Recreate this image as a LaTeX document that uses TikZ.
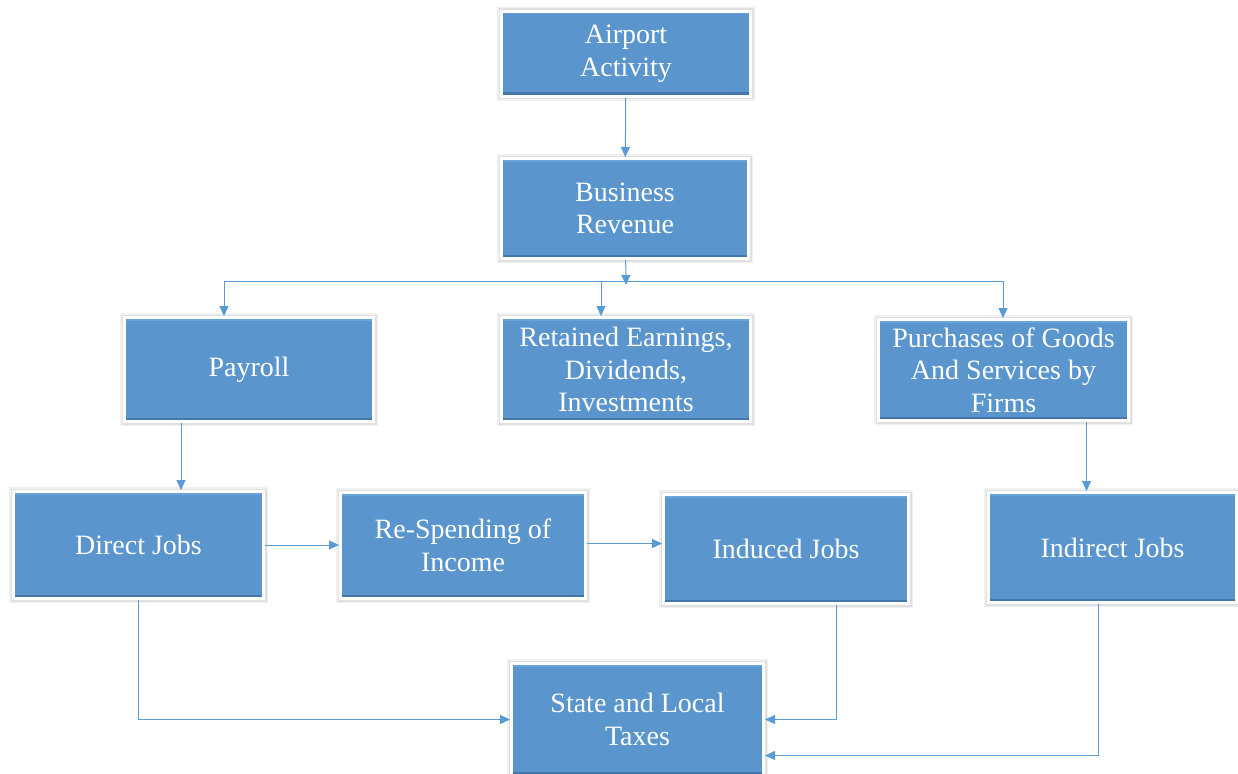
\documentclass[tikz,border=0pt]{standalone}
\usepackage{fontspec}
\setmainfont{Liberation Serif}
\usetikzlibrary{arrows.meta,calc}

\definecolor{boxblue}{HTML}{5A96CD}
\definecolor{boxdark}{HTML}{4577A8}
\definecolor{boxlight}{HTML}{68A4DA}
\definecolor{linkblue}{HTML}{5B9BD5}

\tikzset{
  box/.style={fill=boxblue, draw=white, line width=3pt, inner sep=0pt,
    text=white, align=center, font=\fontsize{28}{32.5}\selectfont,
    preaction={draw=black!6, line width=9pt},
    preaction={draw=black!12, line width=6pt},
    path picture={
      \fill[boxdark] (path picture bounding box.south west) rectangle ([yshift=4pt]path picture bounding box.south east);
      \fill[boxlight] (path picture bounding box.north west) rectangle ([yshift=-3pt]path picture bounding box.north east);
    }},
  line/.style={draw=linkblue, line width=1pt},
  link/.style={line, -{Triangle[length=10pt,width=9pt]}}
}

\begin{document}
\begin{tikzpicture}[x=1pt,y=-1pt]

   \useasboundingbox (0,0) rectangle (1238,773);

   % top of the chain
   \node[box, minimum width=249, minimum height=85] (airport) at (626,54) {Airport\\Activity};
   \node[box, minimum width=247, minimum height=100] (business) at (625,208.5) {Business\\Revenue};

   % three ways the revenue goes
   \node[box, minimum width=249, minimum height=104] (payroll) at (249,369.5) {Payroll};
   \node[box, minimum width=249, minimum height=104] (retained) at (626,369.5) {Retained Earnings,\\Dividends,\\Investments};
   \node[box, minimum width=250, minimum height=101] (purchases) at (1003.5,370) {Purchases of Goods\\And Services by\\Firms};

   % jobs
   \node[box, minimum width=250, minimum height=107] (direct) at (138.5,545) {Direct Jobs};
   \node[box, minimum width=245, minimum height=106] (respend) at (463,545.5) {Re-Spending of\\Income};
   \node[box, minimum width=245, minimum height=109] (induced) at (786,549) {Induced Jobs};
   \node[box, minimum width=248, minimum height=110] (indirect) at (1112.5,547.5) {Indirect Jobs};

   \node[box, minimum width=252, minimum height=112] (taxes) at (637.5,719.5) {State and Local\\Taxes};

   \coordinate (hub) at (626,285);
   \coordinate (busL) at (224,281);
   \coordinate (busM) at (601,281);
   \coordinate (busR) at (1003,281);

   \draw[link] (airport) -- (business);
   \draw[link] (business) -- (hub);
   \draw[line] (busL) -- (busR);
   \draw[link] (busL) -- (busL |- payroll.north);
   \draw[link] (busM) -- (busM |- retained.north);
   \draw[link] (busR) -- (busR |- purchases.north);

   \draw[link] ([xshift=-68pt]payroll.south) -- ([xshift=-68pt]payroll.south |- direct.north);
   \draw[link] ([xshift=83pt]purchases.south) -- ([xshift=83pt]purchases.south |- indirect.north);

   \draw[link] (direct.east) -- (direct.east -| respend.west);
   \draw[link] ([yshift=2pt]respend.east) -- ([yshift=2pt]respend.east -| induced.west);

   \draw[link] (direct.south) |- (taxes.west);
   \draw[link] ([xshift=50pt]induced.south) |- (taxes.east);
   \draw[link] ([xshift=-14pt]indirect.south) |- ([yshift=-36pt]taxes.east);

\end{tikzpicture}
\end{document}
